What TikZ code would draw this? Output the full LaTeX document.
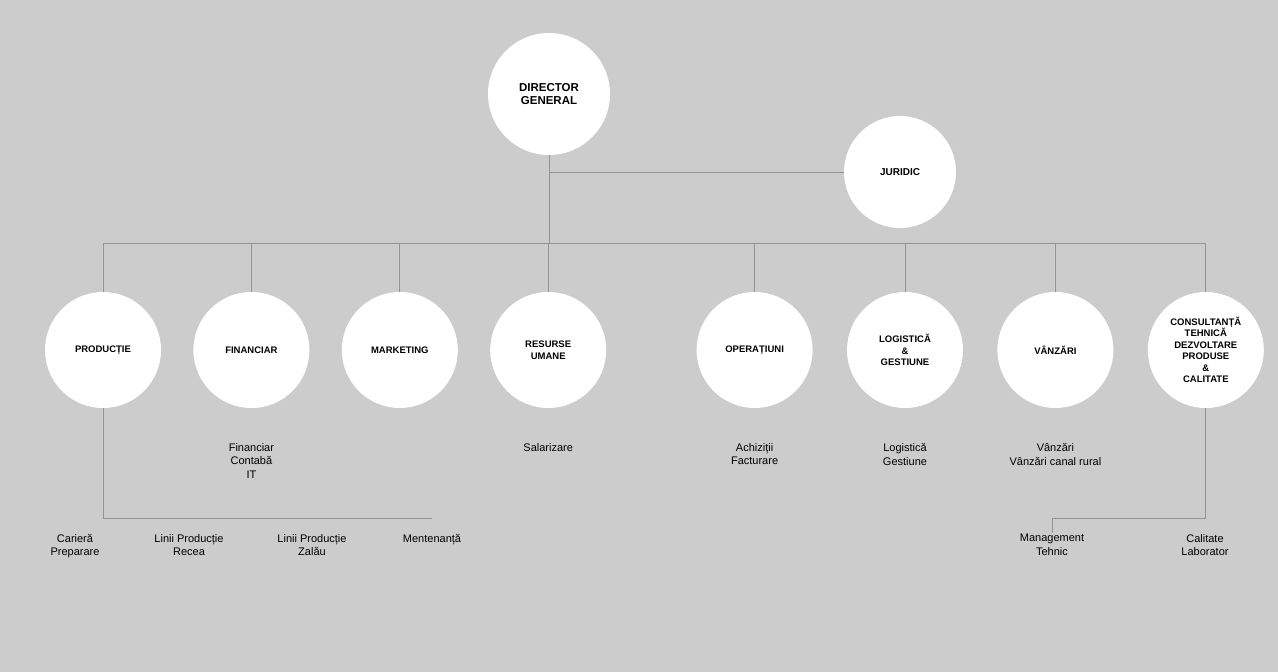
\documentclass[tikz,border=0pt]{standalone}
\usepackage{fontspec}
\setmainfont{Liberation Sans}
\usepackage{tikz}
\usetikzlibrary{positioning}

\begin{document}
\begin{tikzpicture}[
        x=1pt, y=-1pt,
        unit/.style={circle, fill=white, minimum size=116pt, inner sep=1pt,
                     align=center, font=\fontsize{9.5}{11.5}\selectfont\bfseries},
        sub/.style={align=center, inner sep=1pt, anchor=north,
                    font=\fontsize{11}{13.5}\selectfont},
        link/.style={draw=black!42, line width=1pt}
      ]
        \fill[black!20] (0,0) rectangle (1278,672);
        \useasboundingbox (0,0) rectangle (1278,672);

        % top of the chart
        \node[unit, minimum size=122pt, font=\fontsize{11.5}{13}\selectfont\bfseries]
          (dir) at (549,94) {DIRECTOR\\GENERAL};
        \node[unit, minimum size=112pt, font=\fontsize{10}{12}\selectfont\bfseries]
          (jur) at (900,172) {JURIDIC};

        % departments
        \node[unit] (prod) at (103,350) {PRODUCȚIE};
        \node[unit, right=32pt of prod] (fin) {FINANCIAR};
        \node[unit, right=32pt of fin] (mkt) {MARKETING};
        \node[unit, right=32pt of mkt] (res) {RESURSE\\UMANE};
        \node[unit, right=90pt of res] (op) {OPERAȚIUNI};
        \node[unit, right=34pt of op] (log) {LOGISTICĂ\\\&\\GESTIUNE};
        \node[unit, right=34pt of log] (vz) {VÂNZĂRI};
        \node[unit, right=34pt of vz] (cons)
          {CONSULTANȚĂ\\TEHNICĂ\\DEZVOLTARE\\PRODUSE\\\&\\CALITATE};

        % sections
        \node[sub, below=34pt of fin] (fint) {Financiar\\Contabă\\IT};
        \node[sub, below=34pt of res] (rest) {Salarizare};
        \node[sub, below=34pt of op] (opt) {Achiziții\\Facturare};
        \node[sub, below=34pt of log] (logt) {Logistică\\Gestiune};
        \node[sub, below=34pt of vz] (vzt) {Vânzări\\Vânzări canal rural};
        \node[sub] (car) at (75,533) {Carieră\\Preparare};
        \node[sub] (rec) at (189,533) {Linii Producție\\Recea};
        \node[sub] (zal) at (312,533) {Linii Producție\\Zalău};
        \node[sub] (ment) at (432,533) {Mentenanță};
        \node[sub] (mgmt) at (1052,533) {Management\\Tehnic};
        \node[sub] (cal) at (1205,533) {Calitate\\Laborator};

        \coordinate (bus) at (0,243);
        \coordinate (low) at (0,518);

        \draw[link] (dir) -- (dir |- bus);
        \draw[link] (dir |- jur) -- (jur);
        \draw[link] (prod |- bus) -- (cons |- bus);
        \foreach \d in {prod,fin,mkt,res,op,log,vz,cons}
          \draw[link] (\d |- bus) -- (\d);
        \draw[link] (prod) -- (prod |- low) -- (ment |- low);
        \draw[link] (cons) -- (cons |- low) -- (mgmt |- low) -- (mgmt);
      \end{tikzpicture}
\end{document}
